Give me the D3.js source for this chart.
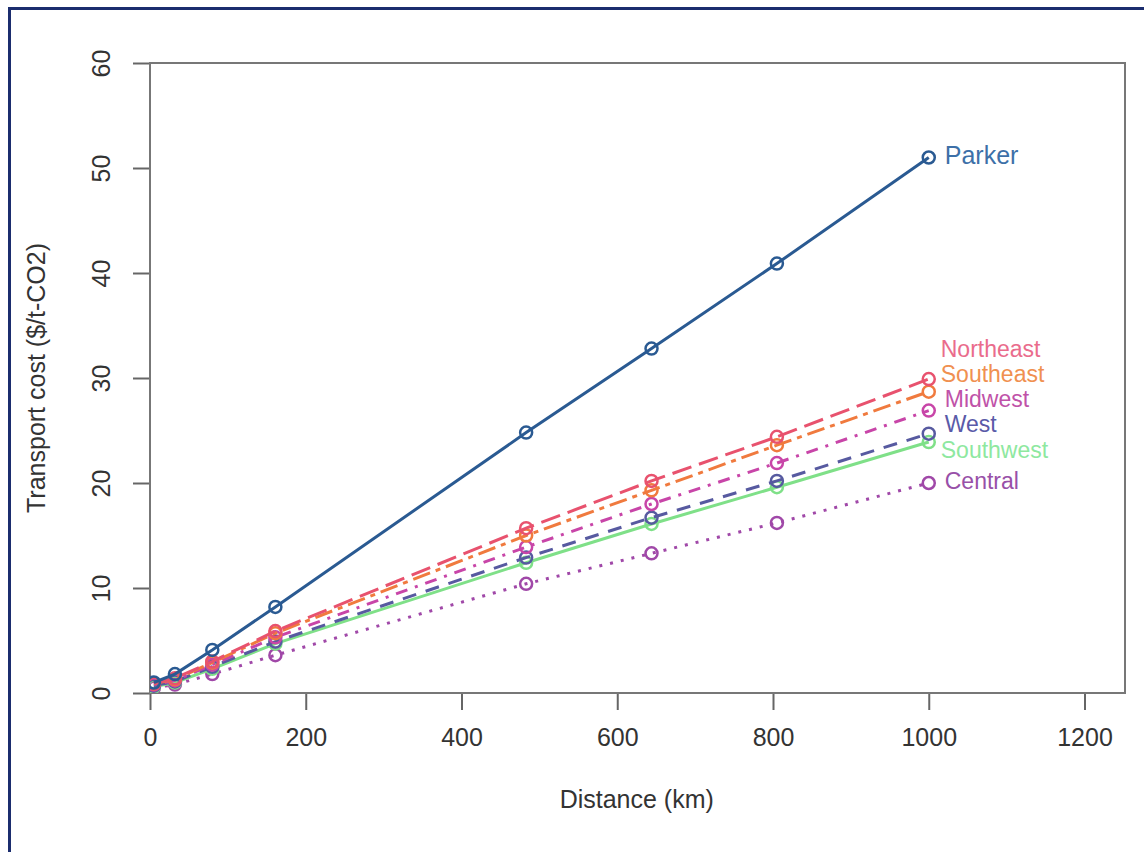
<!DOCTYPE html>
<html>
<head>
<meta charset="utf-8">
<script src="https://cdn.jsdelivr.net/npm/d3@7"></script>
<style>
  body { margin: 0; background: #fff; }
  text { font-family: "Liberation Sans", Arial, sans-serif; }
</style>
</head>
<body>
<div class="chart"></div>
<script>
// distances (km) and cost per region ($/t-CO2)
const distances = [5, 32, 80, 161, 483, 644, 805, 1000];
const regions = ["Parker", "Northeast", "Southeast", "Midwest", "West", "Southwest", "Central"];
const parker    = [1.0, 1.8, 4.1, 8.2, 24.8, 32.8, 40.9, 51.0];
const northeast = [0.9, 1.4, 3.0, 5.9, 15.7, 20.2, 24.4, 29.9];
const southeast = [0.9, 1.3, 2.9, 5.7, 15.0, 19.3, 23.6, 28.7];
const midwest   = [0.8, 1.2, 2.7, 5.3, 13.9, 18.0, 21.9, 26.9];
const west      = [0.7, 1.1, 2.5, 4.9, 12.9, 16.7, 20.2, 24.7];
const southwest = [0.6, 1.0, 2.3, 4.7, 12.4, 16.1, 19.6, 23.9];
const central   = [0.5, 0.8, 1.8, 3.6, 10.4, 13.3, 16.2, 20.0];
const labelY    = [51.0, 32.6, 30.2, 27.8, 25.4, 23.0, 20.0];
const xTicks = [0, 200, 400, 600, 800, 1000, 1200];
const yTicks = [0, 10, 20, 30, 40, 50, 60];

const values = [parker, northeast, southeast, midwest, west, southwest, central];
const colors = ["#2a5a92", "#e8526e", "#f07a3e", "#c845a8", "#575aa0", "#7fe088", "#a048a8"];
const labelColors = ["#3d70a8", "#ea6c8c", "#f09050", "#c052a8", "#5a5aa8", "#8ee8a0", "#9850a8"];
const dashes = [null, "20,8", "18,6,5,6", "3,8,12,8", "14,10", null, "3,8"];

const W = 1144, H = 852;
const margin = {top: 63, right: 19, bottom: 159, left: 150};
const width = W - margin.left - margin.right,
      height = H - margin.top - margin.bottom;

const svg = d3.select(".chart").append("svg")
    .attr("width", W)
    .attr("height", H);

// outer frame (top + left edges)
svg.append("line").attr("x1", 9).attr("x2", W).attr("y1", 8.5).attr("y2", 8.5)
    .attr("stroke", "#1b2d6e").attr("stroke-width", 3);
svg.append("line").attr("x1", 9.5).attr("x2", 9.5).attr("y1", 7).attr("y2", H)
    .attr("stroke", "#1b2d6e").attr("stroke-width", 3);

const g = svg.append("g")
    .attr("transform", `translate(${margin.left},${margin.top})`);

const xScale = d3.scaleLinear().domain([0, 1252]).range([0, width]);
const yScale = d3.scaleLinear().domain([0, 60]).range([height, 0]);

// axes
const xAxis = d3.axisBottom(xScale).tickValues(xTicks).tickFormat(d3.format("d"))
    .tickSize(17).tickPadding(18);
const yAxis = d3.axisLeft(yScale).tickValues(yTicks).tickSize(17).tickPadding(0);

const gx = g.append("g")
    .attr("transform", `translate(0,${height})`)
    .call(xAxis);
gx.select(".domain").remove();
gx.selectAll("line").attr("stroke", "#666").attr("stroke-width", 2);
gx.selectAll("text").attr("font-size", 25).attr("fill", "#333");

const gy = g.append("g").call(yAxis);
gy.select(".domain").remove();
gy.selectAll("line").attr("stroke", "#666").attr("stroke-width", 2);
gy.selectAll("text")
    .attr("font-size", 25).attr("fill", "#333")
    .attr("text-anchor", "middle")
    .attr("x", 0).attr("dy", null)
    .attr("transform", "translate(-47,0) rotate(-90)")
    .attr("dominant-baseline", "middle");

// plot box
g.append("rect")
    .attr("width", width).attr("height", height)
    .attr("fill", "none").attr("stroke", "#777").attr("stroke-width", 2);

// clip for data
g.append("clipPath").attr("id", "clip")
    .append("rect").attr("width", width).attr("height", height);

const line = d3.line()
    .x(d => xScale(d[0]))
    .y(d => yScale(d[1]));

const plot = g.append("g").attr("clip-path", "url(#clip)");

// draw from back to front so Parker stays on top
d3.range(regions.length).reverse().forEach(i => {
  const pts = distances.map((d, j) => [d, values[i][j]]);
  plot.append("path")
      .datum(pts)
      .attr("d", line)
      .attr("fill", "none")
      .attr("stroke", colors[i])
      .attr("stroke-width", 3)
      .attr("stroke-dasharray", dashes[i]);
  plot.selectAll(".pt" + i)
      .data(pts)
      .enter()
      .append("circle")
      .attr("cx", d => xScale(d[0]))
      .attr("cy", d => yScale(d[1]))
      .attr("r", 6)
      .attr("fill", "none")
      .attr("stroke", colors[i])
      .attr("stroke-width", 2.5);
});

// end labels
g.selectAll(".region-label")
    .data(regions)
    .enter()
    .append("text")
    .attr("x", (d, i) => xScale(1000) + (i === 1 || i === 2 || i === 5 ? 12 : 16))
    .attr("y", (d, i) => yScale(labelY[i]))
    .attr("dominant-baseline", "middle")
    .attr("font-size", (d, i) => i === 0 ? 25 : 23)
    .attr("fill", (d, i) => labelColors[i])
    .text(d => d);

// axis titles
svg.append("text")
    .attr("x", margin.left + xScale(625))
    .attr("y", 801)
    .attr("text-anchor", "middle")
    .attr("dominant-baseline", "middle")
    .attr("font-size", 25)
    .attr("fill", "#333")
    .text("Distance (km)");

svg.append("text")
    .attr("transform", `translate(38,${margin.top + yScale(30)}) rotate(-90)`)
    .attr("text-anchor", "middle")
    .attr("dominant-baseline", "middle")
    .attr("font-size", 25)
    .attr("fill", "#333")
    .text("Transport cost ($/t-CO2)");
</script>
</body>
</html>
